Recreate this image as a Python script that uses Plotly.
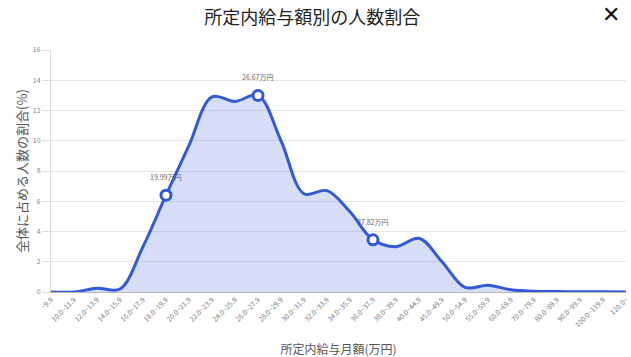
import plotly.graph_objects as go

categories = ["~9.9", "10.0~11.9", "12.0~13.9", "14.0~15.9", "16.0~17.9", "18.0~19.9",
              "20.0~21.9", "22.0~23.9", "24.0~25.9", "26.0~27.9", "28.0~29.9", "30.0~31.9",
              "32.0~33.9", "34.0~35.9", "36.0~37.9", "38.0~39.9", "40.0~44.9", "45.0~49.9",
              "50.0~54.9", "55.0~59.9", "60.0~69.9", "70.0~79.9", "80.0~89.9", "90.0~99.9",
              "100.0~119.9", "120.0~"]
share = [0.0, 0.0, 0.25, 0.2, 3.0, 6.4, 9.7, 12.9, 12.6, 13.0, 10.0, 6.5, 6.7, 5.3, 3.45,
         3.0, 3.55, 2.0, 0.3, 0.45, 0.15, 0.05, 0.03, 0.02, 0.01, 0.0]
marked_idx = [5, 9, 14]
marked_labels = ["19.99万円", "26.67万円", "37.82万円"]

JP = "Noto Sans CJK JP, Noto Sans, sans-serif"
BLUE = "#3358d8"

fig = go.Figure()
fig.add_trace(go.Scatter(
    x=categories, y=share, mode="lines",
    line=dict(color=BLUE, width=3, shape="spline", smoothing=1.0),
    fill="tozeroy", fillcolor="rgba(51,88,216,0.2)", hoverinfo="skip"))
fig.add_trace(go.Scatter(
    x=[categories[i] for i in marked_idx], y=[share[i] for i in marked_idx],
    mode="markers", marker=dict(size=10, color="white", line=dict(color=BLUE, width=3)),
    hoverinfo="skip"))
for i, lab in zip(marked_idx, marked_labels):
    fig.add_annotation(x=categories[i], y=share[i], text=lab, showarrow=False,
                       yshift=18, font=dict(size=7, color="#666", family=JP))

fig.update_layout(
    width=631, height=357,
    margin=dict(l=51, r=5, t=50, b=65),
    paper_bgcolor="white", plot_bgcolor="white",
    showlegend=False,
    title=dict(text="所定内給与額別の人数割合", x=0.495, xanchor="center", y=0.95, yanchor="middle",
               font=dict(size=18, color="#222", family=JP)),
    xaxis=dict(type="category", range=[0, len(categories) - 1], tickangle=-45,
               tickfont=dict(size=7, color="#777", family=JP), showgrid=False, automargin=False,
               showline=True, linecolor="#bbb", linewidth=1, ticks="",
               title=dict(text="所定内給与月額(万円)", font=dict(size=12, color="#555", family=JP), standoff=17)),
    yaxis=dict(range=[0, 16], dtick=2, tickfont=dict(size=7, color="#888", family=JP),
               showgrid=True, gridcolor="#e6e6e6", showline=True, linecolor="#ddd", automargin=False,
               ticks="outside", ticklen=8, tickcolor="#ddd", zeroline=False,
               title=dict(text="全体に占める人数の割合(%)", font=dict(size=13, color="#555", family=JP), standoff=2)),
)
fig.add_annotation(xref="paper", yref="paper", x=1.0, y=1, xanchor="right", yanchor="bottom",
                   xshift=-4, yshift=21, text="✕", showarrow=False,
                   font=dict(size=22, color="#111", family="DejaVu Sans"))
fig.write_html("out.html", config={"displayModeBar": False},
               post_script="document.body.style.margin='0';document.body.style.overflow='hidden';")
